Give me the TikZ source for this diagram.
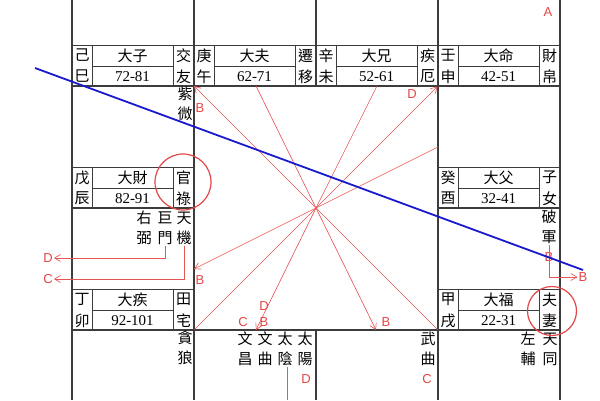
\documentclass[tikz,border=0pt]{standalone}
\usepackage{fontspec}
\setmainfont{Liberation Serif}
\newfontfamily\cjk{Noto Sans CJK TC}
\newfontfamily\lsans{Liberation Sans}
\usetikzlibrary{calc,positioning,arrows.meta}
\definecolor{mk}{RGB}{226,70,70}
\definecolor{ln}{RGB}{232,85,85}
\definecolor{bl}{RGB}{25,25,205}
\definecolor{gl}{RGB}{60,60,60}

\begin{document}
\begin{tikzpicture}[x=1pt,y=-1pt,
  grid/.style={draw=gl,line width=1.1pt},
  cell/.style={draw=gl,line width=0.9pt},
  ch/.style={font=\cjk\fontsize{15}{16}\selectfont,inner sep=0pt},
  num/.style={font=\fontsize{15}{16}\selectfont,inner sep=0pt},
  star/.style={font=\cjk\fontsize{15}{20}\selectfont,align=center,inner sep=1pt},
  lbl/.style={font=\lsans\fontsize{13}{14}\selectfont,text=mk,inner sep=1pt},
  ray/.style={draw=ln,line width=0.65pt},
  tip/.style={ray,-{Straight Barb[length=6pt,width=7pt]}},
  ring/.style={draw=mk,line width=1.2pt},
  sky/.style={draw=bl,line width=1.8pt}]
  \useasboundingbox (0,0) rectangle (600,400);

  \draw[grid] (72,0) -- (72,400) (194,0) -- (194,400) (438,0) -- (438,400) (560,0) -- (560,400);
  \draw[grid] (316,0) -- (316,86) (316,330) -- (316,400);
  \draw[grid] (72,86) -- (560,86) (72,208) -- (194,208) (438,208) -- (560,208) (72,330) -- (560,330);

  \foreach \x/\y/\sa/\sb/\dn/\rg/\pa/\pb [count=\i] in {72/45/己/巳/大子/72-81/交/友, 194/45/庚/午/大夫/62-71/遷/移, 316/45/辛/未/大兄/52-61/疾/厄, 438/45/壬/申/大命/42-51/財/帛, 72/167/戊/辰/大財/82-91/官/祿, 438/167/癸/酉/大父/32-41/子/女, 72/289/丁/卯/大疾/92-101/田/宅, 438/289/甲/戌/大福/22-31/夫/妻}{
    \draw[cell] (\x,\y) -- ++(122,0) (\x+20,\y) -- ++(0,41) (\x+101,\y) -- ++(0,41) (\x+20,\y+21) -- (\x+101,\y+21);
    \node[ch] (g\i a) at (\x+10,\y+10.5) {\sa};
    \node[ch] (g\i b) at (\x+10,\y+31.5) {\sb};
    \node[ch] (d\i) at (\x+60.5,\y+10.5) {\dn};
    \node[num] (r\i) at (\x+60.5,\y+31.5) {\rg};
    \node[ch] (p\i a) at (\x+111.5,\y+10.5) {\pa};
    \node[ch] (p\i b) at (\x+111.5,\y+31.5) {\pb};
  }

  \node[star] (zw) at (185,104) {紫\\微};
  \node[star] (tj) at (184,228) {天\\機};
  \node[star] (jm) at (165,228) {巨\\門};
  \node[star] (yb) at (144,228) {右\\弼};
  \node[star] (tl) at (185,348) {貪\\狼};
  \node[star] (wc) at (245,349) {文\\昌};
  \node[star] (wq) at (265,349) {文\\曲};
  \node[star] (ty) at (285,349) {太\\陰};
  \node[star] (tyg) at (305,349) {太\\陽};
  \node[star] (wuq) at (428,349) {武\\曲};
  \node[star] (zf) at (528,349) {左\\輔};
  \node[star] (tt) at (550,349) {天\\同};
  \node[star] (pj) at (549,227) {破\\軍};

  \node[lbl] (la) at (548,12) {A};
  \node[lbl] (lb1) at (200,108) {B};
  \node[lbl] (ld1) at (412,94) {D};
  \node[lbl] (lb2) at (200,280) {B};
  \node[lbl] (lc3) at (243,322) {C};
  \node[lbl] (ld3) at (264,306) {D};
  \node[lbl] (lb3) at (264,322) {B};
  \node[lbl] (lb4) at (386,322) {B};
  \node[lbl] (ld4) at (48,258) {D};
  \node[lbl] (lc4) at (48,279) {C};
  \node[lbl] (lb5) at (549,257) {B};
  \node[lbl] (lb6) at (583,277) {B};
  \node[lbl] (lc5) at (427,379) {C};
  \node[lbl] (ld5) at (306,379) {D};

  \coordinate (ctr) at (316,208);
  \foreach \px/\py/\n in {194/86/1, 256/86/2, 377/86/3, 437.5/86.5/4, 438/147/5, 194/269/6, 194.5/329.5/7, 256/330/8, 376/330/9, 438/330/10}
    \coordinate (e\n) at (\px,\py);
  \foreach \n in {2,3,5,7,10}
    \draw[ray] (ctr) -- (e\n);
  \foreach \n in {1,4,6,8,9}
    \draw[tip] (ctr) -- (e\n);

  \draw[tip] (jm.south) |- (ld4);
  \draw[tip] (tj.south) |- (lc4);
  \draw[tip] (pj.south) |- (lb6);
  \coordinate (tyd) at (287,400);
  \draw[ray] (ty.south -| tyd) -- (tyd);

  \draw[ring] (183,182) circle (28pt);
  \draw[ring] (552,311) circle (24.5pt);

  \coordinate (bl1) at (35,68);
  \coordinate (bl2) at (583,270);
  \draw[sky] (bl1) -- (bl2);
\end{tikzpicture}
\end{document}
